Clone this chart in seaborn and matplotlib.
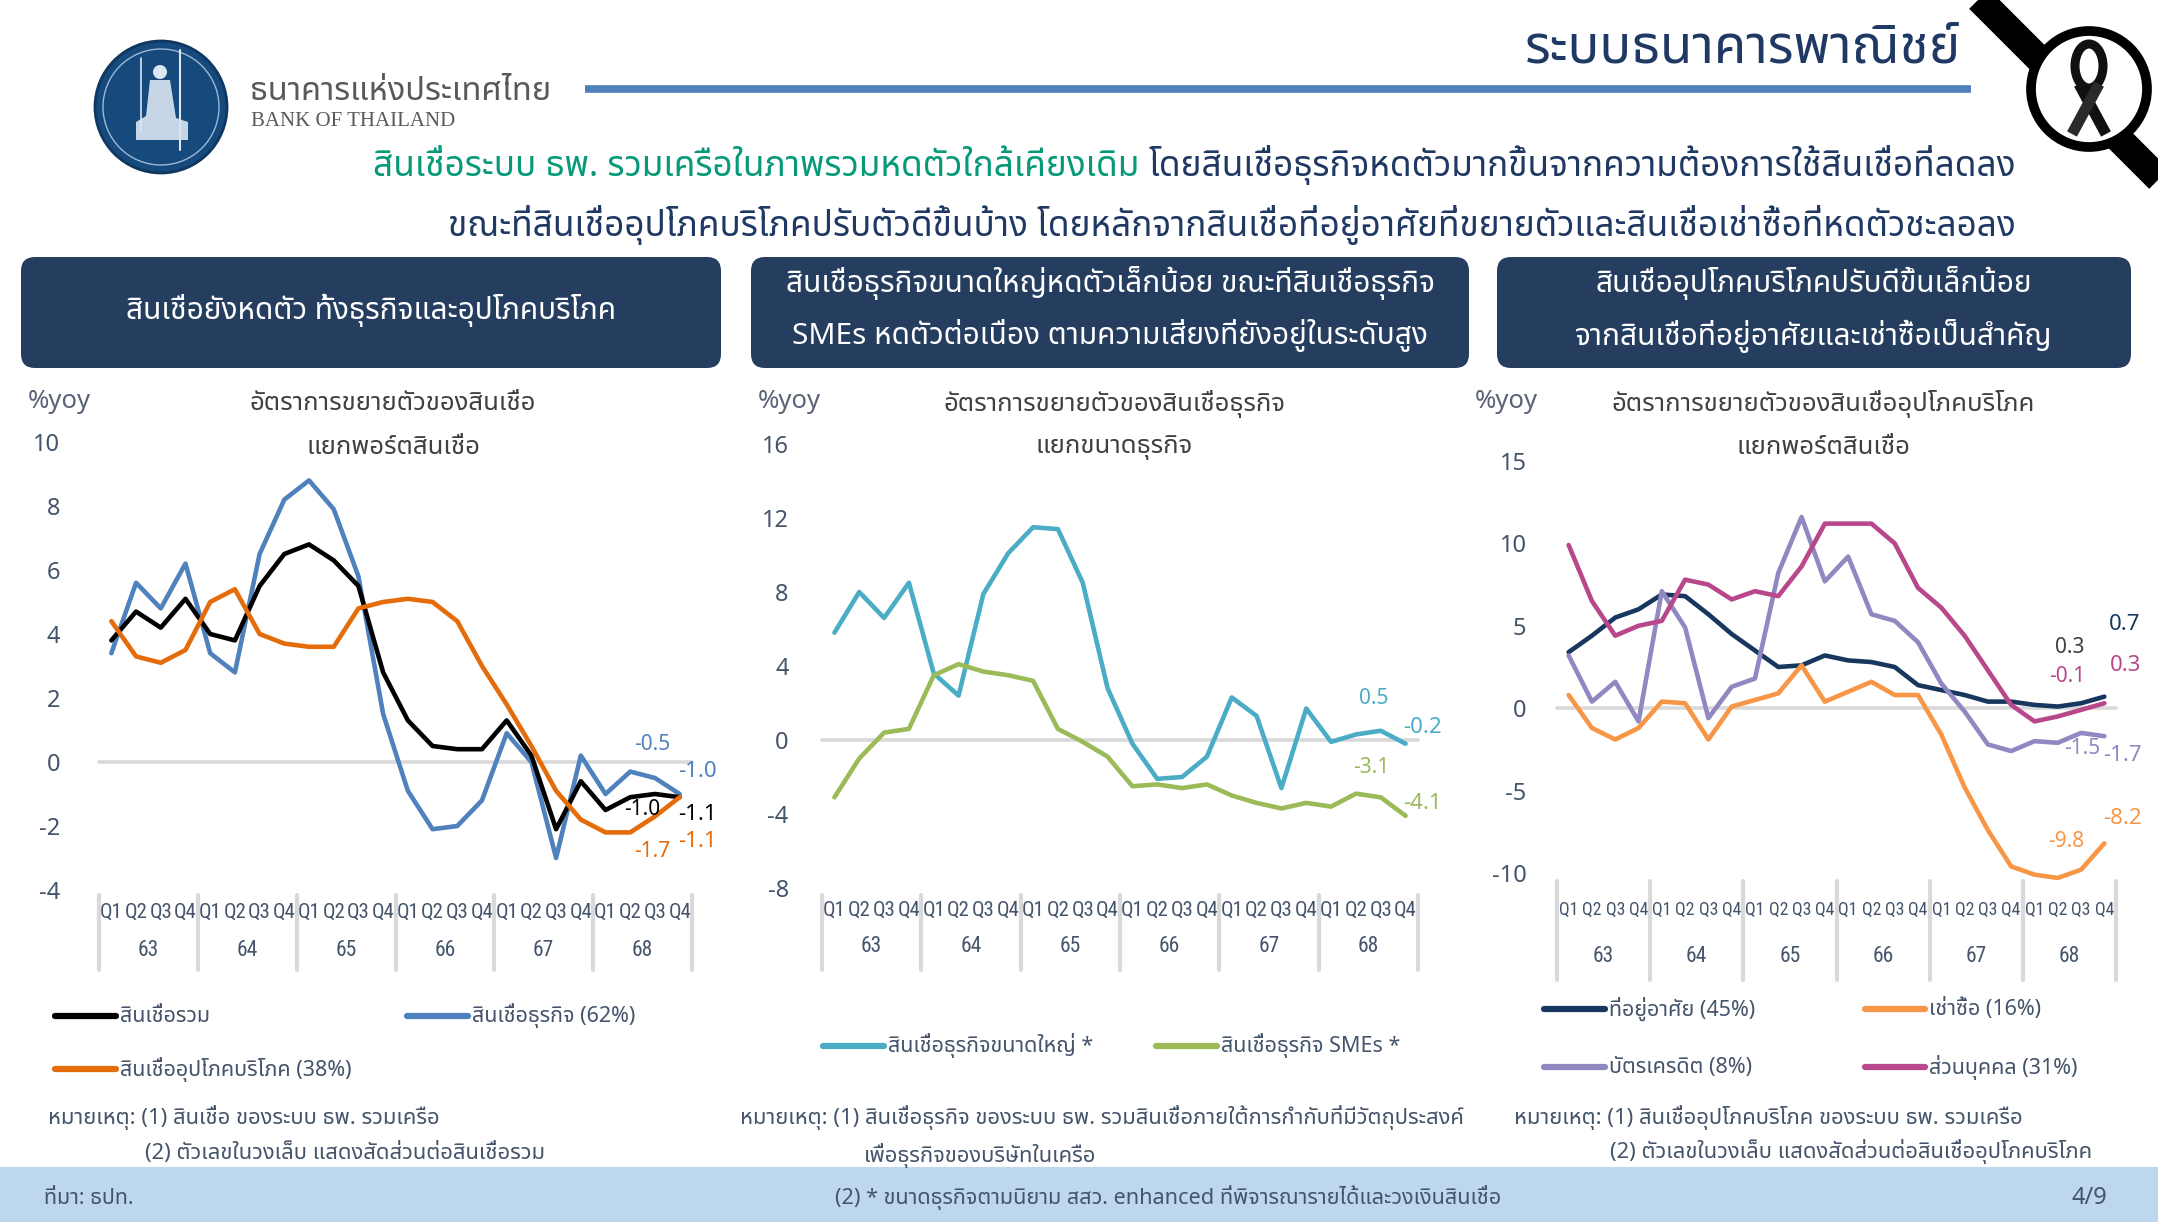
import numpy as np
import pandas as pd
import matplotlib
matplotlib.use("Agg")
import matplotlib.pyplot as plt
import seaborn as sns
from matplotlib import font_manager as fm
from matplotlib.ft2font import FT2Font
from matplotlib.patches import FancyBboxPatch, Rectangle, Circle, Polygon, Ellipse

# ------------------------------------------------------------------ data
years = ["63", "64", "65", "66", "67", "68"]
quarters = ["Q1", "Q2", "Q3", "Q4"]

# chart 1 : loan growth by portfolio (%yoy)
c1_names = ["สินเชื่อรวม", "สินเชื่อธุรกิจ (62%)", "สินเชื่ออุปโภคบริโภค (38%)"]
total_loans = [3.8, 4.7, 4.2, 5.1, 4.0, 3.8, 5.5, 6.5, 6.8, 6.3, 5.5, 2.8,
               1.3, 0.5, 0.4, 0.4, 1.3, 0.2, -2.1, -0.6, -1.5, -1.1, -1.0, -1.1]
business_loans = [3.4, 5.6, 4.8, 6.2, 3.4, 2.8, 6.5, 8.2, 8.8, 7.9, 5.8, 1.5,
                  -0.9, -2.1, -2.0, -1.2, 0.9, 0.0, -3.0, 0.2, -1.0, -0.3, -0.5, -1.0]
consumer_loans = [4.4, 3.3, 3.1, 3.5, 5.0, 5.4, 4.0, 3.7, 3.6, 3.6, 4.8, 5.0,
                  5.1, 5.0, 4.4, 3.0, 1.8, 0.5, -0.9, -1.8, -2.2, -2.2, -1.7, -1.1]

# chart 2 : business loans by firm size (%yoy)
c2_names = ["สินเชื่อธุรกิจขนาดใหญ่ *", "สินเชื่อธุรกิจ SMEs *"]
large_corp = [5.8, 8.0, 6.6, 8.5, 3.6, 2.4, 7.9, 10.1, 11.5, 11.4, 8.5, 2.8,
              -0.2, -2.1, -2.0, -0.9, 2.3, 1.3, -2.6, 1.7, -0.1, 0.3, 0.5, -0.2]
sme = [-3.1, -1.0, 0.4, 0.6, 3.5, 4.1, 3.7, 3.5, 3.2, 0.6, -0.1, -0.9,
       -2.5, -2.4, -2.6, -2.4, -3.0, -3.4, -3.7, -3.4, -3.6, -2.9, -3.1, -4.1]

# chart 3 : consumer loans by portfolio (%yoy)
c3_names = ["ที่อยู่อาศัย (45%)", "เช่าซื้อ (16%)", "บัตรเครดิต (8%)", "ส่วนบุคคล (31%)"]
housing = [3.4, 4.4, 5.5, 6.0, 6.9, 6.8, 5.7, 4.5, 3.5, 2.5, 2.6, 3.2,
           2.9, 2.8, 2.5, 1.4, 1.1, 0.8, 0.4, 0.4, 0.2, 0.1, 0.3, 0.7]
hire_purchase = [0.8, -1.2, -1.9, -1.2, 0.4, 0.3, -1.9, 0.1, 0.5, 0.9, 2.6, 0.4,
                 1.0, 1.6, 0.8, 0.8, -1.6, -4.8, -7.4, -9.6, -10.1, -10.3, -9.8, -8.2]
credit_card = [3.2, 0.4, 1.6, -0.8, 7.1, 4.9, -0.6, 1.3, 1.8, 8.2, 11.6, 7.7,
               9.2, 5.7, 5.3, 4.0, 1.5, -0.2, -2.2, -2.6, -2.0, -2.1, -1.5, -1.7]
personal = [9.9, 6.5, 4.4, 5.0, 5.3, 7.8, 7.5, 6.6, 7.1, 6.8, 8.6, 11.2,
            11.2, 11.2, 10.0, 7.3, 6.1, 4.4, 2.3, 0.2, -0.8, -0.5, -0.1, 0.3]

c1_yticks = [-4, -2, 0, 2, 4, 6, 8, 10]
c2_yticks = [-8, -4, 0, 4, 8, 12, 16]
c3_yticks = [-10, -5, 0, 5, 10, 15]

# ------------------------------------------------------------------ fonts
def find_thai_font():
    prefs = ["Noto Sans Thai", "Noto Sans Thai UI", "Sarabun", "TH Sarabun New",
             "Loma", "Garuda", "Umpush", "Waree", "Laksaman", "Norasi", "Kinnari",
             "Tlwg Typo", "Sawasdee", "Purisa"]
    paths = set(fm.findSystemFonts())
    paths |= {f.fname for f in fm.fontManager.ttflist}
    found = {}
    for p in sorted(paths):
        try:
            cmap = FT2Font(p).get_charmap()
        except Exception:
            continue
        if 0x0E01 in cmap and 0x0E2A in cmap:
            try:
                fm.fontManager.addfont(p)
                name = fm.FontProperties(fname=p).get_name()
            except Exception:
                continue
            found.setdefault(name, p)
    for n in prefs:
        if n in found:
            return n
    return next(iter(found), None)


def find_narrow():
    names = {f.name for f in fm.fontManager.ttflist}
    for n in ["Liberation Sans Narrow", "Roboto Condensed", "Open Sans Condensed",
              "DejaVu Sans Condensed"]:
        if n in names:
            return n
    return None


sns.set_style("white")
thai = find_thai_font()
narrow = find_narrow()
FAM = ([thai] if thai else []) + ["DejaVu Sans"]
NFAM = ([narrow] if narrow else []) + FAM
plt.rcParams["font.family"] = FAM
plt.rcParams["axes.unicode_minus"] = False

W, H = 2158, 1222
fig = plt.figure(figsize=(W / 100, H / 100), dpi=100)
fig.patch.set_facecolor("white")
renderer = fig.canvas.get_renderer()


def fit_size(text, family, maxw, start):
    s = start
    while s > 6:
        t = fig.text(0, 0, text, fontsize=s, family=family)
        w = t.get_window_extent(renderer).width
        t.remove()
        if w <= maxw:
            return s
        s -= 0.25
    return s


bg = fig.add_axes([0, 0, 1, 1], zorder=0)
bg.set_xlim(0, W)
bg.set_ylim(H, 0)
bg.axis("off")

NAVY = "#1F3864"
SLATE = "#44546A"

# ------------------------------------------------------------------ header
bg.text(1961, 50, "ระบบธนาคารพาณิชย์", ha="right", va="center", fontsize=38,
        fontweight="bold", color=NAVY)
bg.plot([585, 1971], [89, 89], color="#4F81BD", lw=5.5, solid_capstyle="butt")

# logo
bg.add_patch(Circle((161, 107), 66, fc="#16497C", ec="#0F3760", lw=2))
bg.add_patch(Circle((161, 107), 58, fc="none", ec="#9DB8D6", lw=1))
bg.add_patch(Circle((160, 72), 7, fc="#DCE6F2", ec="none"))
bg.add_patch(Polygon([(150, 80), (170, 80), (176, 118), (188, 122), (188, 140),
                      (136, 140), (136, 122), (146, 116)], closed=True,
                     fc="#DCE6F2", ec="none", alpha=0.9))
bg.plot([180, 180], [50, 150], color="#DCE6F2", lw=1.5)
bg.plot([141, 141], [58, 130], color="#DCE6F2", lw=1.2)
bg.text(250, 92, "ธนาคารแห่งประเทศไทย", ha="left", va="center", fontsize=23.5,
        color="#595959")
bg.text(251, 121, "BANK OF THAILAND", ha="left", va="center", fontsize=15,
        color="#595959", family=["Liberation Serif", "DejaVu Serif"])

# mourning ribbon decoration
bg.plot([1975, 2175], [-5, 195], color="black", lw=20, solid_capstyle="butt")
bg.add_patch(Circle((2089, 89), 58, fc="white", ec="black", lw=7, zorder=3))
bg.add_patch(Ellipse((2089, 66), 28, 44, fc="none", ec="#111111", lw=6.5, zorder=4))
bg.plot([2079, 2106], [84, 134], color="#111111", lw=8, zorder=4,
        solid_capstyle="butt")
bg.plot([2099, 2072], [84, 134], color="#2A2A2A", lw=8, zorder=4,
        solid_capstyle="butt")

# headline
HL = 25.3
t_line1 = bg.text(2016, 176, "โดยสินเชื่อธุรกิจหดตัวมากขึ้นจากความต้องการใช้สินเชื่อที่ลดลง",
                  ha="right", va="baseline", fontsize=HL, color=NAVY)
bg.annotate("สินเชื่อระบบ ธพ. รวมเครือในภาพรวมหดตัวใกล้เคียงเดิม ",
            xy=(0, 176), xycoords=(t_line1, "data"), ha="right", va="baseline",
            fontsize=HL, color="#079A79")
bg.text(2016, 236,
        "ขณะที่สินเชื่ออุปโภคบริโภคปรับตัวดีขึ้นบ้าง โดยหลักจากสินเชื่อที่อยู่อาศัยที่ขยายตัวและสินเชื่อเช่าซื้อที่หดตัวชะลอลง",
        ha="right", va="baseline", fontsize=HL, color=NAVY)

# navy panels
BOXC = "#253D5F"
boxes = [(21, 721), (751, 1469), (1497, 2131)]
box_text = [["สินเชื่อยังหดตัว ทั้งธุรกิจและอุปโภคบริโภค"],
            ["สินเชื่อธุรกิจขนาดใหญ่หดตัวเล็กน้อย ขณะที่สินเชื่อธุรกิจ",
             "SMEs หดตัวต่อเนื่อง ตามความเสี่ยงที่ยังอยู่ในระดับสูง"],
            ["สินเชื่ออุปโภคบริโภคปรับดีขึ้นเล็กน้อย",
             "จากสินเชื่อที่อยู่อาศัยและเช่าซื้อเป็นสำคัญ"]]
BT = 21.5
for (x0, x1), lines in zip(boxes, box_text):
    bg.add_patch(FancyBboxPatch((x0, 257), x1 - x0, 111,
                                boxstyle="round,pad=0,rounding_size=14",
                                fc=BOXC, ec="none"))
    cx = (x0 + x1) / 2
    if len(lines) == 1:
        bg.text(cx, 310, lines[0], ha="center", va="center", fontsize=BT,
                color="white")
    else:
        bg.text(cx, 283, lines[0], ha="center", va="center", fontsize=BT,
                color="white")
        bg.text(cx, 336, lines[1], ha="center", va="center", fontsize=BT,
                color="white")

# footer band
bg.add_patch(Rectangle((0, 1167), W, 60, fc="#BDD7EE", ec="none"))
bg.text(44, 1198, "ที่มา: ธปท.", ha="left", va="center", fontsize=15.5, color=SLATE)
bg.text(835, 1198, "(2) * ขนาดธุรกิจตามนิยาม สสว. enhanced ที่พิจารณารายได้และวงเงินสินเชื่อ",
        ha="left", va="center", fontsize=15.6, color=SLATE)
bg.text(2071, 1198, "4/9", ha="left", va="center", fontsize=17, color=SLATE)


# ------------------------------------------------------------------ charts
def draw_chart(box, ylim, yticks, names, values, colors, draw_order, ypad, qpad,
               year_y, sep_y, q_fill):
    l, t, r, b = box
    ax = fig.add_axes([l / W, 1 - b / H, (r - l) / W, (b - t) / H], zorder=2)
    ax.patch.set_alpha(0)
    rows = []
    for n, v in zip(names, values):
        for i, val in enumerate(v):
            rows.append({"q": i, "value": val, "series": n})
    df = pd.DataFrame(rows)
    ax.axhline(0, color="#D9D9D9", lw=2.6, zorder=0)
    sns.lineplot(data=df, x="q", y="value", hue="series",
                 hue_order=[names[k] for k in draw_order],
                 palette=dict(zip(names, colors)), linewidth=3.3, legend=False,
                 sort=False, ax=ax, zorder=3)
    for ln in ax.lines:
        ln.set_solid_joinstyle("round")
        ln.set_clip_on(False)
    ax.set_xlim(-0.5, 23.5)
    ax.set_ylim(*ylim)
    for s in ax.spines.values():
        s.set_visible(False)
    ax.set_yticks(yticks)
    ax.set_yticklabels([f"{v:g}" for v in yticks])
    ax.tick_params(axis="y", length=0, pad=ypad, labelsize=17, labelcolor=SLATE)
    slot = (r - l) / 24.0
    qsize = fit_size("Q2", NFAM, slot * q_fill, 15)
    ax.set_xticks(range(24))
    ax.set_xticklabels(quarters * 6, family=NFAM)
    ax.tick_params(axis="x", length=0, pad=qpad, labelsize=qsize, labelcolor=SLATE)
    ax.set_xlabel("")
    ax.set_ylabel("")
    tr = ax.get_xaxis_transform()

    def fy(py):
        return (b - py) / (b - t)

    for k, yr in enumerate(years):
        ax.text(4 * k + 1.5, fy(year_y), yr, transform=tr, ha="center",
                va="center", fontsize=15.5, color=SLATE, family=NFAM)
    for k in range(7):
        ax.plot([4 * k - 0.5, 4 * k - 0.5], [fy(sep_y[0]), fy(sep_y[1])],
                transform=tr, clip_on=False, color="#D9D9D9", lw=3)
    return ax


# chart 1
ax1 = draw_chart((99, 442, 692, 890), (-4, 10), c1_yticks, c1_names,
                 [total_loans, business_loans, consumer_loans],
                 ["#000000", "#4F81BD", "#E46C0A"], [1, 0, 2],
                 ypad=28, qpad=9, year_y=950, sep_y=(895, 970), q_fill=0.98)
ax1.text(21.9, 0.55, "-0.5", color="#4F81BD", fontsize=15, ha="center", va="center")
ax1.text(22.95, -0.3, "-1.0", color="#4F81BD", fontsize=16, fontweight="bold",
         ha="left", va="center")
ax1.text(21.5, -1.47, "-1.0", color="#000000", fontsize=15, ha="center", va="center")
ax1.text(22.95, -1.65, "-1.1", color="#000000", fontsize=16, fontweight="bold",
         ha="left", va="center")
ax1.text(21.9, -2.8, "-1.7", color="#E46C0A", fontsize=15, ha="center", va="center")
ax1.text(22.95, -2.48, "-1.1", color="#E46C0A", fontsize=16, fontweight="bold",
         ha="left", va="center")

# chart 2
ax2 = draw_chart((822, 444, 1418, 888), (-8, 16), c2_yticks, c2_names,
                 [large_corp, sme], ["#4BACC6", "#9BBB59"], [0, 1],
                 ypad=24, qpad=9, year_y=947, sep_y=(895, 970), q_fill=0.98)
ax2.text(21.7, 2.25, "0.5", color="#4BACC6", fontsize=15, ha="center", va="center")
ax2.text(22.9, 0.7, "-0.2", color="#4BACC6", fontsize=16, ha="left", va="center")
ax2.text(21.6, -1.5, "-3.1", color="#9BBB59", fontsize=15, ha="center", va="center")
ax2.text(22.9, -3.45, "-4.1", color="#9BBB59", fontsize=16, ha="left", va="center")

# chart 3
c3_cols = ["#17375E", "#F79646", "#9088C0", "#B8488B"]
ax3 = draw_chart((1557, 461, 2116, 873), (-10, 15), c3_yticks, c3_names,
                 [housing, hire_purchase, credit_card, personal], c3_cols,
                 [0, 2, 3, 1], ypad=22, qpad=20, year_y=956,
                 sep_y=(881, 980), q_fill=0.84)
ax3.text(23.89, 5.1, "0.7", color="#17375E", fontsize=16, fontweight="bold",
         ha="center", va="center")
ax3.text(21.53, 3.7, "0.3", color="#404040", fontsize=15, ha="center", va="center")
ax3.text(21.4, 1.95, "-0.1", color="#B8488B", fontsize=15, ha="center", va="center")
ax3.text(23.89, 2.62, "0.3", color="#B8488B", fontsize=16, ha="center", va="center")
ax3.text(22.05, -2.42, "-1.5", color="#9088C0", fontsize=15, ha="center", va="center")
ax3.text(23.76, -2.9, "-1.7", color="#9088C0", fontsize=16, ha="center", va="center")
ax3.text(21.35, -8.06, "-9.8", color="#F79646", fontsize=15, ha="center", va="center")
ax3.text(23.76, -6.72, "-8.2", color="#F79646", fontsize=16, ha="center", va="center")

# chart titles and units
chart_titles = [(28, 393, ["อัตราการขยายตัวของสินเชื่อ", "แยกพอร์ตสินเชื่อ"]),
                (758, 1114, ["อัตราการขยายตัวของสินเชื่อธุรกิจ", "แยกขนาดธุรกิจ"]),
                (1475, 1823, ["อัตราการขยายตัวของสินเชื่ออุปโภคบริโภค", "แยกพอร์ตสินเชื่อ"])]
for ux, cx, lines in chart_titles:
    bg.text(ux, 401, "%yoy", ha="left", va="center", fontsize=18.5, color="#5B6377")
    bg.text(cx, 404, lines[0], ha="center", va="center", fontsize=18.5,
            color="#404040")
    bg.text(cx, 448, lines[1], ha="center", va="center", fontsize=18.5,
            color="#404040")

# legends (manual, matching the slide layout)
leg = [((55, 116), 1016, "#000000", c1_names[0]),
       ((407, 468), 1016, "#4F81BD", c1_names[1]),
       ((55, 116), 1069, "#E46C0A", c1_names[2]),
       ((823, 884), 1046, "#4BACC6", c2_names[0]),
       ((1156, 1217), 1046, "#9BBB59", c2_names[1]),
       ((1544, 1605), 1009, c3_cols[0], c3_names[0]),
       ((1865, 1925), 1009, c3_cols[1], c3_names[1]),
       ((1544, 1605), 1067, c3_cols[2], c3_names[2]),
       ((1865, 1925), 1067, c3_cols[3], c3_names[3])]
for (x0, x1), y, c, lab in leg:
    bg.plot([x0, x1], [y, y], color=c, lw=4.5, solid_capstyle="round")
    bg.text(x1 + 4, y, lab, ha="left", va="center", fontsize=15.5, color=SLATE)

# notes
notes = [(48, 1118, "หมายเหตุ: (1) สินเชื่อ ของระบบ ธพ. รวมเครือ"),
         (145, 1153, "(2) ตัวเลขในวงเล็บ แสดงสัดส่วนต่อสินเชื่อรวม"),
         (740, 1118, "หมายเหตุ: (1) สินเชื่อธุรกิจ ของระบบ ธพ. รวมสินเชื่อภายใต้การกำกับที่มีวัตถุประสงค์"),
         (864, 1156, "เพื่อธุรกิจของบริษัทในเครือ"),
         (1514, 1118, "หมายเหตุ: (1) สินเชื่ออุปโภคบริโภค ของระบบ ธพ. รวมเครือ"),
         (1610, 1151, "(2) ตัวเลขในวงเล็บ แสดงสัดส่วนต่อสินเชื่ออุปโภคบริโภค")]
for x, y, s in notes:
    bg.text(x, y, s, ha="left", va="center", fontsize=15.8, color=SLATE)

fig.savefig("out.png", dpi=100, facecolor="white")
